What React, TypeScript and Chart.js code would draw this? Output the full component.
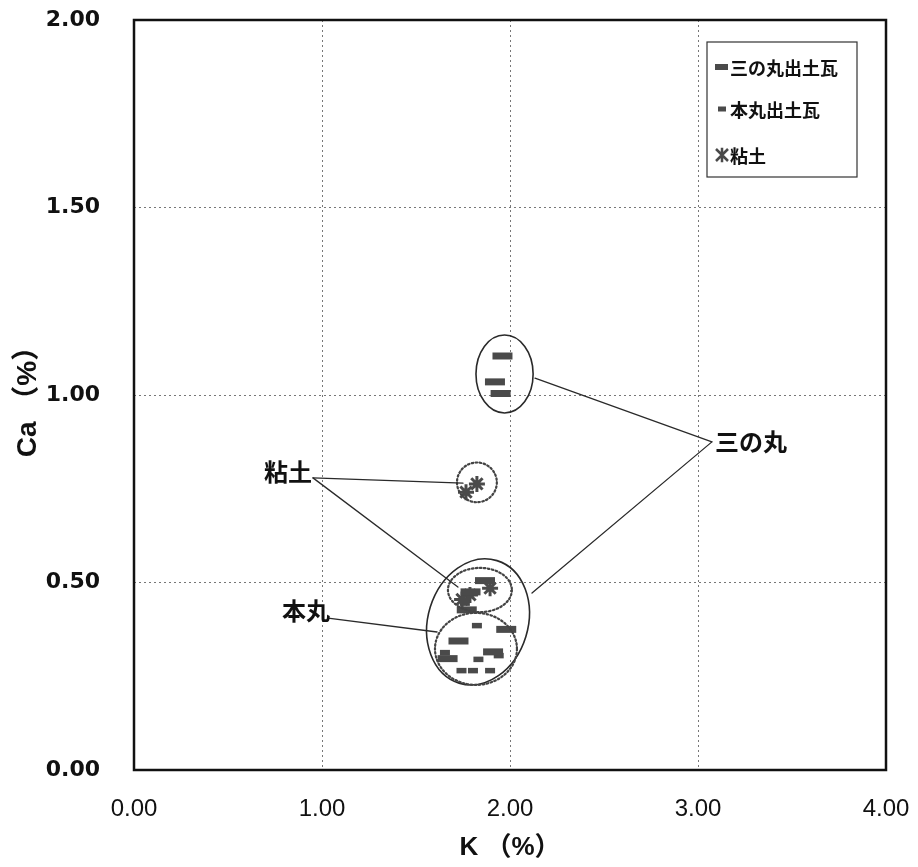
import React, { useEffect, useRef } from "react";
import { Chart, registerables } from "chart.js";
Chart.register(...registerables);

// ---- data (K %, Ca %) ----
const sannomaruK = [1.96, 1.92, 1.95, 1.867, 1.79, 1.77, 1.98, 1.726, 1.91, 1.668];
const sannomaruCa = [1.104, 1.035, 1.004, 0.505, 0.475, 0.427, 0.375, 0.344, 0.315, 0.297];
const honmaruK = [1.824, 1.654, 1.832, 1.742, 1.803, 1.894, 1.94, 1.76];
const honmaruCa = [0.385, 0.313, 0.295, 0.265, 0.265, 0.265, 0.305, 0.445];
const clayK = [1.824, 1.766, 1.894, 1.787, 1.745];
const clayCa = [0.763, 0.741, 0.485, 0.467, 0.455];

const xTicks = [0, 1, 2, 3, 4];
const yTicks = [0, 0.5, 1.0, 1.5, 2.0];

const seriesLabels = ["三の丸出土瓦", "本丸出土瓦", "粘土"];

// annotation groups (data units)
const groupLabels = ["三の丸", "粘土", "本丸"];
const groupLabelK = [3.09, 0.947, 1.043];
const groupLabelCa = [0.875, 0.795, 0.424];
const leaderFromK = [3.074, 0.952, 1.032];
const leaderFromCa = [0.875, 0.779, 0.405];
const leaderToK = [[2.133, 2.117], [1.75, 1.723], [1.612]];
const leaderToCa = [[1.045, 0.472], [0.765, 0.488], [0.368]];

// ellipses: centre K, centre Ca, radius K, radius Ca, rotation, dotted
const ellK = [1.971, 1.824, 1.83, 1.84, 1.819];
const ellCa = [1.056, 0.767, 0.395, 0.48, 0.323];
const ellRK = [0.152, 0.106, 0.266, 0.17, 0.218];
const ellRCa = [0.104, 0.053, 0.171, 0.059, 0.096];
const ellRot = [0, 0, 0.3, 0, 0];
const ellDotted = [false, true, false, true, true];

const MARK = "#4a4a4a";
const INK = "#2a2a2a";
const CJK = "'Noto Sans CJK JP', 'Noto Sans', sans-serif";

const toPts = (xs: number[], ys: number[]) => xs.map((x, i) => ({ x, y: ys[i] }));

const zeroPad = (s: any) => {
  s.paddingTop = 0;
  s.paddingBottom = 0;
  s.paddingLeft = 0;
  s.paddingRight = 0;
};

export default function App() {
  const ref = useRef<HTMLCanvasElement>(null);

  useEffect(() => {
    const canvas = ref.current!;
    const overlay = {
      id: "overlay",
      afterDatasetsDraw(chart: any) {
        const ctx = chart.ctx;
        const xs = chart.scales.x;
        const ys = chart.scales.y;
        const px = (v: number) => xs.getPixelForValue(v);
        const py = (v: number) => ys.getPixelForValue(v);
        ctx.save();
        for (let i = 0; i < ellK.length; i++) {
          const cx = px(ellK[i]);
          const cy = py(ellCa[i]);
          const rx = Math.abs(px(ellK[i] + ellRK[i]) - cx);
          const ry = Math.abs(py(ellCa[i] + ellRCa[i]) - cy);
          ctx.beginPath();
          ctx.ellipse(cx, cy, rx, ry, ellRot[i], 0, Math.PI * 2);
          if (ellDotted[i]) {
            ctx.setLineDash([1.6, 2.4]);
            ctx.lineWidth = 2.2;
            ctx.lineCap = "round";
            ctx.strokeStyle = "#444";
          } else {
            ctx.setLineDash([]);
            ctx.lineWidth = 1.6;
            ctx.lineCap = "butt";
            ctx.strokeStyle = INK;
          }
          ctx.stroke();
        }
        ctx.setLineDash([]);
        ctx.strokeStyle = INK;
        ctx.lineWidth = 1.3;
        for (let g = 0; g < groupLabels.length; g++) {
          for (let j = 0; j < leaderToK[g].length; j++) {
            ctx.beginPath();
            ctx.moveTo(px(leaderFromK[g]), py(leaderFromCa[g]));
            ctx.lineTo(px(leaderToK[g][j]), py(leaderToCa[g][j]));
            ctx.stroke();
          }
        }
        ctx.fillStyle = "#111";
        ctx.font = `bold 24px ${CJK}`;
        ctx.textBaseline = "middle";
        for (let g = 0; g < groupLabels.length; g++) {
          ctx.textAlign = g === 0 ? "left" : "right";
          ctx.fillText(groupLabels[g], px(groupLabelK[g]), py(groupLabelCa[g]));
        }
        ctx.restore();
      },
      afterDraw(chart: any) {
        const ctx = chart.ctx;
        const a = chart.chartArea;
        ctx.save();
        ctx.strokeStyle = "#111";
        ctx.lineWidth = 2.5;
        ctx.strokeRect(a.left, a.top, a.right - a.left, a.bottom - a.top);
        const lx = a.right - 179;
        const ly = a.top + 22;
        const lw = 150;
        const lh = 135;
        ctx.fillStyle = "#fff";
        ctx.fillRect(lx, ly, lw, lh);
        ctx.strokeStyle = "#333";
        ctx.lineWidth = 1.2;
        ctx.strokeRect(lx, ly, lw, lh);
        const rowsY = [ly + 25, ly + 67, ly + 113];
        ctx.font = `bold 18px ${CJK}`;
        ctx.textAlign = "left";
        ctx.textBaseline = "middle";
        for (let i = 0; i < seriesLabels.length; i++) {
          const y = rowsY[i];
          ctx.strokeStyle = MARK;
          ctx.fillStyle = MARK;
          if (i === 0) {
            ctx.fillRect(lx + 8, y - 3, 13, 6);
          } else if (i === 1) {
            ctx.fillRect(lx + 11, y - 2.5, 8, 5);
          } else {
            ctx.lineWidth = 2.5;
            const cx = lx + 15;
            const r = 6;
            ctx.beginPath();
            ctx.moveTo(cx - r, y - r); ctx.lineTo(cx + r, y + r);
            ctx.moveTo(cx - r, y + r); ctx.lineTo(cx + r, y - r);
            ctx.moveTo(cx, y - r * 1.2); ctx.lineTo(cx, y + r * 1.2);
            ctx.stroke();
          }
          ctx.fillStyle = "#111";
          ctx.fillText(seriesLabels[i], lx + 23, y + 1);
        }
        ctx.restore();
      },
    };

    const chart = new Chart(canvas, {
      type: "scatter",
      data: {
        datasets: [
          {
            label: seriesLabels[0],
            data: toPts(sannomaruK, sannomaruCa),
            pointStyle: "line",
            radius: 10,
            borderWidth: 7,
            borderColor: MARK,
            backgroundColor: MARK,
          },
          {
            label: seriesLabels[1],
            data: toPts(honmaruK, honmaruCa),
            pointStyle: "line",
            radius: 5,
            borderWidth: 5.5,
            borderColor: MARK,
            backgroundColor: MARK,
          },
          {
            label: seriesLabels[2],
            data: toPts(clayK, clayCa),
            pointStyle: "star",
            radius: 8,
            borderWidth: 3,
            borderColor: MARK,
            backgroundColor: MARK,
          },
        ],
      },
      options: {
        responsive: false,
        animation: false,
        events: [],
        layout: { autoPadding: false, padding: { top: 20, right: 32, left: 0, bottom: 0 } },
        plugins: { legend: { display: false }, tooltip: { enabled: false } },
        scales: {
          x: {
            type: "linear",
            min: 0,
            max: 4,
            afterFit: (s: any) => { s.height = 97; zeroPad(s); },
            afterBuildTicks: (s: any) => { s.ticks = xTicks.map((v) => ({ value: v })); },
            ticks: {
              padding: 25,
              color: "#111",
              font: { family: "'Liberation Sans', Arial, sans-serif", size: 24 },
              callback: (v: any) => Number(v).toFixed(2),
            },
            grid: { color: "#777", lineWidth: 1, drawTicks: false },
            border: { display: false, dash: [2, 3] },
            title: {
              display: true,
              text: "K （%）",
              color: "#111",
              font: { family: `'Liberation Sans', ${CJK}`, size: 26, weight: "bold" },
              padding: { top: 0, bottom: 4 },
            },
          },
          y: {
            type: "linear",
            min: 0,
            max: 2,
            afterFit: (s: any) => { s.width = 134; zeroPad(s); },
            afterBuildTicks: (s: any) => { s.ticks = yTicks.map((v) => ({ value: v })); },
            ticks: {
              padding: 34,
              color: "#111",
              font: { family: "'DejaVu Sans', sans-serif", size: 22, weight: "bold" },
              callback: (v: any) => Number(v).toFixed(2),
            },
            grid: { color: "#777", lineWidth: 1, drawTicks: false },
            border: { display: false, dash: [2, 3] },
            title: {
              display: true,
              text: "Ca （%）",
              color: "#111",
              font: { family: `'Liberation Sans', ${CJK}`, size: 28, weight: "bold" },
              padding: { top: 11, bottom: 0 },
            },
          },
        },
      },
      plugins: [overlay],
    } as any);

    return () => chart.destroy();
  }, []);

  return (
    <div style={{ position: "absolute", left: 0, top: 0, width: 918, height: 867, background: "#fff" }}>
      <canvas ref={ref} width={918} height={867} style={{ display: "block" }} />
    </div>
  );
}
